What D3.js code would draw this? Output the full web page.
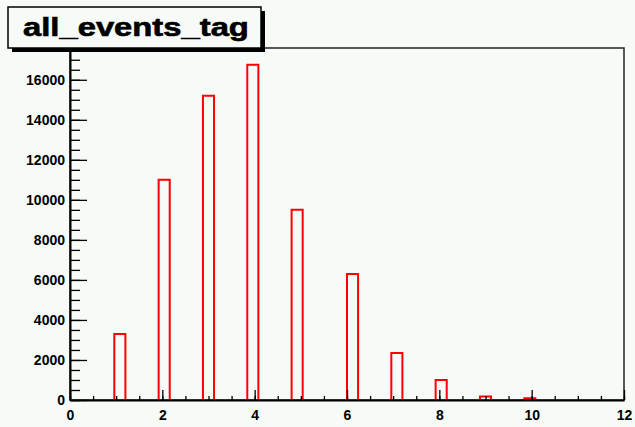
<!DOCTYPE html>
<html><head><meta charset="utf-8">
<script src="https://cdn.jsdelivr.net/npm/d3@7"></script>
<style>
  html, body { margin: 0; padding: 0; background: #f6fbf7; }
  svg { display: block; }
  text { font-family: "Liberation Sans", Arial, Helvetica, sans-serif; font-weight: bold; fill: #000; }
</style>
</head><body>
<svg id="chart" width="635" height="427"></svg>
<script>
// Histogram "all_events_tag": 50 bins over [0, 12], only the filled bins are listed
const title = "all_events_tag";
const binLow = [0.96, 1.92, 2.88, 3.84, 4.80, 6.00, 6.96, 7.92, 8.88, 9.84];
const counts = [3300, 11000, 15200, 16750, 9500, 6300, 2350, 1000, 180, 90];
const binWidth = 0.24;
const xTicks = [0, 2, 4, 6, 8, 10, 12];
const yTicks = [0, 2000, 4000, 6000, 8000, 10000, 12000, 14000, 16000];

const svg = d3.select("#chart");
const frame = { left: 70, right: 624, top: 48, bottom: 400 };

const x = d3.scaleLinear().domain([0, 12]).range([frame.left, frame.right]);
const yMax = d3.max(counts) * 1.05;
const y = d3.scaleLinear().domain([0, yMax]).range([frame.bottom, frame.top]);

// frame around the plot area
svg.append("rect")
  .attr("x", frame.left).attr("y", frame.top)
  .attr("width", frame.right - frame.left).attr("height", frame.bottom - frame.top)
  .attr("fill", "none").attr("stroke", "#222").attr("stroke-width", 1.5);

// histogram bins as open outlines
svg.append("g").selectAll("path")
  .data(binLow.map((lo, i) => ({ lo, c: counts[i] })))
  .join("path")
  .attr("d", d => {
    const x0 = x(d.lo), x1 = x(d.lo + binWidth), y0 = y(0), y1 = y(d.c);
    return `M${x0},${y0}V${y1}H${x1}V${y0}`;
  })
  .attr("fill", "none").attr("stroke", "#ff0000").attr("stroke-width", 2);

// minor ticks
const xMinor = d3.range(0, 12.001, 0.5);
const yMinor = d3.range(0, yMax, 500);

svg.append("g").attr("transform", `translate(0,${frame.bottom})`)
  .call(d3.axisBottom(x).tickValues(xMinor).tickSize(-4).tickFormat(""))
  .call(g => g.select(".domain").remove());
svg.append("g").attr("transform", `translate(${frame.left},0)`)
  .call(d3.axisLeft(y).tickValues(yMinor).tickSize(-10).tickFormat(""))
  .call(g => g.select(".domain").remove());

// major ticks with labels
const xAxis = svg.append("g").attr("transform", `translate(0,${frame.bottom})`)
  .call(d3.axisBottom(x).tickValues(xTicks).tickSize(-10).tickSizeOuter(0).tickPadding(14).tickFormat(d3.format("d")));
const yAxis = svg.append("g").attr("transform", `translate(${frame.left},0)`)
  .call(d3.axisLeft(y).tickValues(yTicks).tickSize(-17).tickSizeOuter(0).tickPadding(5).tickFormat(d3.format("d")));

svg.selectAll(".tick line").attr("stroke", "#000").attr("stroke-width", 1.3);
svg.selectAll(".domain").attr("stroke", "#000").attr("stroke-width", 2);
svg.selectAll(".tick text").attr("font-size", 14).attr("font-family", null).attr("fill", "#000");
xAxis.selectAll(".tick text").attr("dy", "0.71em").attr("y", 10);

// title box with drop shadow
const box = { x: 8, y: 7, w: 253, h: 41 };
svg.append("rect").attr("x", box.x + 4).attr("y", box.y + 4)
  .attr("width", box.w).attr("height", box.h).attr("fill", "#000");
svg.append("rect").attr("x", box.x).attr("y", box.y)
  .attr("width", box.w).attr("height", box.h)
  .attr("fill", "#f6fbf7").attr("stroke", "#000").attr("stroke-width", 1.5);
const titleText = svg.append("text")
  .attr("font-size", 25).attr("stroke", "#000").attr("stroke-width", 0.6)
  .text(title);
// widen the heavy title glyphs to span the box
const natural = titleText.node().getComputedTextLength();
titleText.attr("transform", `translate(23,36) scale(${226 / natural},1)`);
</script>
</body></html>
